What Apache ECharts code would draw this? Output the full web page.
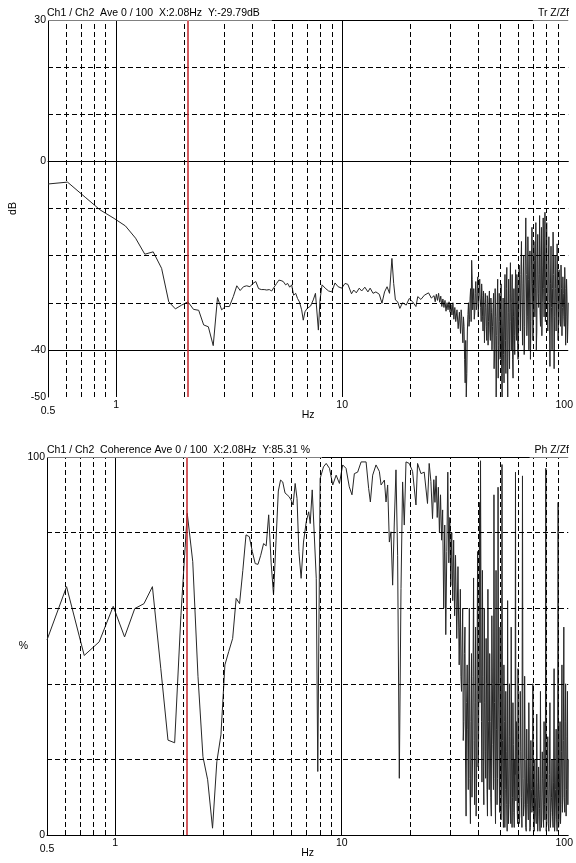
<!DOCTYPE html>
<html>
<head>
<meta charset="utf-8">
<script src="https://cdn.jsdelivr.net/npm/echarts@6/dist/echarts.min.js"></script>
<style>
  html, body { margin: 0; padding: 0; background: #fff; }
  #chart { width: 576px; height: 863px; }
</style>
</head>
<body>
<div id="chart"></div>
<script>
// FFT bins below ~6.5 Hz (about 0.122 Hz apart)
var lowHz = [0.5, 0.61, 0.73, 0.85, 0.98, 1.1, 1.22, 1.34, 1.46, 1.59,
  1.71, 1.83, 1.95, 2.08, 2.2, 2.32, 2.44, 2.56, 2.69, 2.81,
  2.93, 3.05, 3.17, 3.3, 3.42, 3.54, 3.66, 3.78, 3.91, 4.03,
  4.15, 4.27, 4.39, 4.52, 4.64, 4.76, 4.88, 5.0, 5.13, 5.25,
  5.37, 5.49, 5.62, 5.74, 5.86, 5.98, 6.1, 6.23, 6.35, 6.47];
var tfLowDb = [-4.8, -4.4, -7.6, -10.3, -12.1, -13.7, -16.3, -19.7, -19.2, -22.7,
  -29.8, -31.3, -30.5, -29.8, -31.4, -31.6, -34.7, -35.1, -39.1, -28.9,
  -31.5, -30.8, -30.8, -28.7, -26.4, -27.4, -26.6, -26.4, -26.6, -25.9,
  -25.5, -27.0, -27.2, -27.2, -27.3, -27.2, -27.5, -26.7, -25.9, -25.2,
  -25.3, -25.5, -26.2, -25.9, -26.7, -26.2, -28.4, -28.0, -29.1, -29.8];
var cohLowPct = [51.6, 65.7, 47.5, 51.1, 60.5, 52.4, 59.9, 61.2, 65.7, 44,
  25.1, 24.4, 58, 85.1, 72.3, 42, 20.7, 14.6, 1.8, 19.4,
  26.5, 45, 48.5, 52, 62.6, 61.2, 70, 79.4, 78.9, 75,
  71.8, 71.6, 74, 77.1, 76.5, 84.7, 72, 63.5, 78, 91,
  93.9, 93.4, 90.5, 90, 89.5, 88.6, 87.3, 93, 89, 75];

// 6.5 .. 25 Hz, read at the visible vertices
var tfMidHz = [6.62, 6.73, 6.85, 7.0, 7.25, 7.45, 7.62, 7.85, 7.98, 8.15,
  8.41, 8.71, 9.0, 9.3, 9.6, 9.95, 10.3, 10.6, 11.0, 11.25,
  11.55, 11.9, 12.2, 12.6, 13.0, 13.3, 13.7, 14.1, 14.6, 15.0,
  15.4, 15.8, 16.2, 16.6, 16.9, 17.2, 17.6, 18.0, 18.5, 19.2,
  19.8, 20.5, 21.2, 21.6, 22.3, 23.1, 24.1, 24.8];
var tfMidDb = [-31.5, -33.7, -31.9, -31.2, -30.7, -29.4, -28.0, -35.8, -29.4, -26.2,
  -26.9, -27.5, -27.7, -25.8, -26.6, -26.9, -25.9, -26.1, -28.1, -27.3,
  -27.9, -26.9, -27.5, -26.7, -27.7, -26.9, -28.0, -27.7, -28.2, -30.1,
  -27.7, -26.6, -28.0, -20.6, -25.9, -29.4, -29.8, -31.2, -30.0, -30.5,
  -29.1, -29.8, -30.8, -28.7, -29.3, -28.4, -27.9, -29.0];

var cohMidHz = [6.62, 6.78, 6.97, 7.15, 7.26, 7.41, 7.72, 7.84, 8.03, 8.31,
  8.54, 8.83, 9.13, 9.45, 9.77, 10.1, 10.45, 10.8, 11.1, 11.37,
  11.76, 12.18, 12.81, 13.15, 13.38, 13.7, 14.17, 14.66, 14.92, 15.43,
  15.69, 15.95, 16.23, 16.5, 16.78, 17.07, 17.36, 17.65, 17.96, 18.27,
  18.57, 18.89, 19.22, 19.87, 20.55, 21.27, 21.62, 22.38, 23.13, 23.92,
  24.33, 24.76, 25.17];
var cohMidPct = [67.9, 77.5, 82.8, 85.5, 82.4, 91.3, 67.9, 16.8, 94.3, 97.4,
  98.3, 97, 92.6, 95.2, 93, 97.9, 97, 92.1, 90, 95.6,
  96, 98.7, 98.7, 91.7, 88.1, 95.2, 97.9, 96.2, 92.6, 93.9,
  88.1, 92.6, 77.5, 80.2, 66.1, 82.8, 96.6, 74, 15, 65.2,
  93.4, 82, 98.7, 98.3, 96.2, 87.3, 98.3, 95.6, 96, 87.7,
  98.3, 93.5, 83.7];

// 25.5 .. 100 Hz, noisy part, about one reading per pixel
var denseHz = [25.5, 25.8, 26.1, 26.4, 26.7, 27.0, 27.3, 27.6, 27.9, 28.2,
  28.5, 28.8, 29.1, 29.4, 29.7, 30.0, 30.3, 30.6, 30.9, 31.2,
  31.5, 31.8, 32.2, 32.6, 33.0, 33.4, 33.8, 34.2, 34.6, 35.0,
  35.4, 35.8, 36.2, 36.6, 37.0, 37.4, 37.8, 38.2, 38.6, 39.0,
  39.4, 39.8, 40.2, 40.6, 41.0, 41.4, 41.8, 42.2, 42.6, 43.0,
  43.4, 43.8, 44.2, 44.6, 45.0, 45.5, 46.0, 46.5, 47.0, 47.5,
  48.0, 48.5, 49.0, 49.5, 50.0, 50.5, 51.0, 51.5, 52.0, 52.5,
  53.0, 53.5, 54.0, 54.5, 55.0, 55.5, 56.0, 56.5, 57.0, 57.5,
  58.0, 58.5, 59.0, 59.5, 60.0, 60.7, 61.4, 62.1, 62.8, 63.5,
  64.2, 64.9, 65.6, 66.3, 67.0, 67.7, 68.4, 69.1, 69.8, 70.5,
  71.2, 71.9, 72.6, 73.3, 74.0, 74.7, 75.4, 76.1, 76.8, 77.5,
  78.2, 78.9, 79.6, 80.3, 81.2, 82.1, 83.0, 83.9, 84.8, 85.7,
  86.6, 87.5, 88.4, 89.3, 90.2, 91.1, 92.0, 92.9, 93.8, 94.7,
  95.6, 96.5, 97.4, 98.3, 99.2, 100];
var tfDenseDb = [-28.5, -29.8, -28.2, -29.5, -28.0, -29.9, -28.6, -30.8, -29.2, -31.0,
  -29.5, -31.8, -30.0, -31.5, -29.8, -32.0, -30.4, -32.6, -30.0, -33.5,
  -31.0, -34.0, -31.5, -35.5, -32.0, -36.5, -33.0, -38.5, -35.0, -47.0,
  -50.0, -36.0, -30.0, -33.5, -27.0, -21.0, -31.5, -27.0, -32.0, -25.5,
  -30.5, -24.5, -29.5, -25.0, -31.0, -26.0, -33.0, -27.5, -38.5, -28.0,
  -35.0, -28.5, -39.0, -30.0, -36.0, -29.0, -40.0, -31.0, -44.0, -27.0,
  -50.0, -30.0, -46.0, -28.0, -42.0, -26.0, -50.0, -29.0, -47.0, -24.0,
  -45.0, -22.5, -50.0, -25.0, -44.0, -21.5, -40.0, -24.0, -46.0, -27.0,
  -41.0, -23.0, -38.0, -26.0, -42.0, -22.0, -36.0, -17.0, -39.0, -20.0,
  -35.0, -12.0, -37.0, -16.0, -40.0, -19.0, -34.0, -14.0, -38.0, -17.0,
  -33.0, -13.0, -36.0, -15.5, -31.0, -11.5, -35.0, -14.0, -30.0, -12.0,
  -33.0, -10.8, -29.0, -13.0, -36.0, -16.0, -43.5, -18.0, -40.0, -15.0,
  -44.0, -20.0, -36.0, -17.5, -38.0, -23.0, -34.0, -22.0, -37.0, -24.5,
  -33.0, -22.5, -39.0, -25.0, -38.5, -30.0];
var cohDensePct = [94, 88, 95, 84, 92, 80, 90, 78, 86, 60,
  82, 53, 75, 96, 72, 84, 66, 80, 62, 78,
  58, 74, 52, 71, 45, 65, 38, 60, 30, 55,
  5, 45, 12, 60, 3, 48, 20, 68, 8, 55,
  15, 75, 25, 88, 99, 30, 70, 18, 60, 22,
  52, 12, 65, 20, 48, 10, 58, 24, 90, 15,
  70, 8, 92, 20, 55, 4, 98, 10, 45, 2,
  38, 8, 62, 3, 40, 9, 55, 2, 35, 6,
  20, 96, 30, 7, 44, 3, 38, 10, 95, 5,
  42, 2, 28, 8, 35, 1, 25, 6, 40, 2,
  20, 5, 32, 1, 18, 7, 38, 2, 22, 9,
  30, 4, 97, 3, 26, 1, 35, 6, 20, 2,
  44, 5, 28, 1, 88, 4, 30, 8, 45, 10,
  55, 6, 40, 12, 38, 20];

// extra readings between the dense ones, 33 .. 100 Hz
var fillHz = [33.2, 33.6, 34.0, 34.4, 34.8, 35.2, 35.6, 36.0, 36.4, 36.8,
  37.2, 37.6, 38.0, 38.4, 38.8, 39.2, 39.6, 40.0, 40.4, 40.8,
  41.2, 41.6, 42.0, 42.4, 42.8, 43.2, 43.6, 44.0, 44.4, 44.8,
  45.25, 45.75, 46.25, 46.75, 47.25, 47.75, 48.25, 48.75, 49.25, 49.75,
  50.25, 50.75, 51.25, 51.75, 52.25, 52.75, 53.25, 53.75, 54.25, 54.75,
  55.25, 55.75, 56.25, 56.75, 57.25, 57.75, 58.25, 58.75, 59.25, 59.75,
  60.35, 61.05, 61.75, 62.45, 63.15, 63.85, 64.55, 65.25, 65.95, 66.65,
  67.35, 68.05, 68.75, 69.45, 70.15, 70.85, 71.55, 72.25, 72.95, 73.65,
  74.35, 75.05, 75.75, 76.45, 77.15, 77.85, 78.55, 79.25, 79.95,
  80.75, 81.65, 82.55, 83.45, 84.35, 85.25, 86.15, 87.05, 87.95, 88.85,
  89.75, 90.65, 91.55, 92.45, 93.35, 94.25, 95.15, 96.05, 96.95, 97.85,
  98.75, 99.6];
var tfFillDb = [-34.5, -31.5, -36.0, -33.0, -42.0, -38.0, -45.0, -32.5, -35.0, -29.0,
  -34.0, -25.0, -29.5, -33.5, -28.0, -31.5, -27.0, -33.0, -27.5, -29.0,
  -34.0, -28.5, -36.0, -30.0, -33.0, -31.0, -38.0, -29.0, -34.0, -27.5,
  -38.0, -32.0, -35.0, -28.0, -40.0, -33.0, -37.0, -25.0, -39.0, -34.0,
  -31.0, -45.0, -36.0, -41.0, -30.0, -38.0, -27.0, -43.0, -32.0, -36.0,
  -28.0, -34.0, -30.0, -42.0, -33.0, -37.0, -29.0, -35.0, -24.0, -39.0,
  -31.0, -28.0, -24.0, -30.0, -26.0, -41.0, -22.0, -24.0, -33.0, -25.0,
  -29.0, -42.0, -22.0, -26.0, -31.0, -21.0, -27.0, -40.0, -20.0, -28.0,
  -24.0, -32.0, -19.0, -37.0, -22.0, -27.0, -20.0, -34.0, -21.0,
  -28.0, -22.0, -30.0, -26.0, -31.0, -27.0, -24.0, -33.0, -27.0, -30.0,
  -26.0, -32.0, -28.0, -35.0, -27.0, -31.0, -28.0, -35.0, -27.0, -33.0,
  -29.0, -35.0];
var cohFillPct = [55, 42, 50, 25, 48, 20, 35, 28, 40, 15,
  30, 10, 42, 25, 35, 5, 45, 18, 50, 35,
  60, 14, 42, 8, 35, 15, 40, 5, 30, 12,
  30, 5, 40, 12, 35, 3, 28, 15, 40, 6,
  32, 14, 25, 2, 30, 12, 22, 1, 18, 8,
  26, 3, 20, 10, 24, 2, 16, 9, 22, 3,
  18, 5, 22, 2, 15, 8, 20, 1, 14, 4,
  18, 2, 12, 7, 16, 1, 10, 3, 14, 5,
  12, 1, 10, 4, 15, 2, 8, 12, 1,
  12, 3, 16, 2, 10, 5, 14, 1, 12, 4,
  18, 2, 14, 3, 22, 6, 25, 10, 30, 5,
  26, 8];

// grid lines and labels
var hzLabels = [0.5, 1, 10, 100];
var dashHz = [0.6, 0.7, 0.8, 0.9, 2, 3, 4, 5, 6, 7, 8, 9, 20, 30, 40, 50, 60, 70, 80, 90];
var solidHz = [1, 10];
var cursorHz = 2.08;
var tfLabels = [-50, -40, 0, 30];
var tfDash = [20, 10, -10, -20, -30];
var tfSolid = [30, 0, -40];
var cohLabels = [0, 100];
var cohDash = [20, 40, 60, 80];
var cohSolid = [100];

var font = 'Liberation Sans, Arial, sans-serif';

function pairs(xs, ys) {
  var out = [];
  for (var i = 0; i < xs.length; i++) out.push([xs[i], ys[i]]);
  return out;
}

function merged(parts) {
  var all = [];
  parts.forEach(function (p) { all = all.concat(p); });
  all.sort(function (a, b) { return a[0] - b[0]; });
  return all;
}

function gridLines(hDash, hSolid) {
  var dash = { type: [5, 3], color: '#000', width: 1 };
  var solid = { type: 'solid', color: '#000', width: 1 };
  var d = [];
  dashHz.forEach(function (v) { d.push({ xAxis: v, lineStyle: dash }); });
  solidHz.forEach(function (v) { d.push({ xAxis: v, lineStyle: solid }); });
  hDash.forEach(function (v) { d.push({ yAxis: v, lineStyle: dash }); });
  hSolid.forEach(function (v) { d.push({ yAxis: v, lineStyle: solid }); });
  d.push({ xAxis: cursorHz, lineStyle: { type: 'solid', color: '#c4262b', width: 1.5 } });
  return {
    silent: true,
    symbol: ['none', 'none'],
    label: { show: false },
    emphasis: { disabled: true },
    animation: false,
    data: d
  };
}

function xAxisFor(i) {
  return {
    type: 'log',
    logBase: 10,
    gridIndex: i,
    min: 0.5,
    max: 100,
    axisLine: { lineStyle: { color: '#000', width: 1 } },
    axisTick: { show: false },
    splitLine: { show: false },
    axisLabel: {
      customValues: hzLabels,
      margin: 3,
      color: '#000',
      fontSize: 10.5,
      fontFamily: font,
      formatter: function (v) {
        if (v < 0.9) return '{lo|0.5}';
        if (v > 50) return '{end|100}';
        return String(Math.round(v));
      },
      rich: {
        lo: { padding: [6, 0, 0, 0], fontSize: 10.5, fontFamily: font, color: '#000' },
        end: { padding: [0, 8, 0, 0], fontSize: 10.5, fontFamily: font, color: '#000' }
      }
    },
    name: 'Hz',
    nameLocation: 'middle',
    nameGap: 13,
    nameMoveOverlap: false,
    nameTextStyle: { color: '#000', fontSize: 10.5, fontFamily: font }
  };
}

function titleBox(text, pos, top) {
  var t = {
    text: text,
    top: top,
    padding: pos.left !== undefined ? [0, 12, 1.5, 1] : [0, 1, 1.5, 5],
    backgroundColor: '#fff',
    textStyle: { fontSize: 10.5, lineHeight: 12, fontWeight: 'normal', color: '#000', fontFamily: font }
  };
  if (pos.left !== undefined) t.left = pos.left; else t.right = pos.right;
  return t;
}

var chart = echarts.init(document.getElementById('chart'), null, { renderer: 'canvas' });

chart.setOption({
  animation: false,
  backgroundColor: '#fff',
  textStyle: { fontFamily: font },
  title: [
    titleBox('Ch1 / Ch2  Ave 0 / 100  X:2.08Hz  Y:-29.79dB', { left: 46 }, 7),
    titleBox('Tr Z/Zf', { right: 6 }, 7),
    titleBox('Ch1 / Ch2  Coherence Ave 0 / 100  X:2.08Hz  Y:85.31 %', { left: 46 }, 444),
    titleBox('Ph Z/Zf', { right: 6 }, 444)
  ],
  grid: [
    { left: 47, right: 6, top: 20, height: 377 },
    { left: 47, right: 6, top: 457, height: 378 }
  ],
  xAxis: [xAxisFor(0), xAxisFor(1)],
  yAxis: [
    {
      type: 'value', gridIndex: 0, min: -50, max: 30, interval: 10,
      axisLine: { show: true, lineStyle: { color: '#000', width: 1 } },
      axisTick: { show: false },
      splitLine: { show: false },
      axisLabel: { customValues: tfLabels, margin: 2, color: '#000', fontSize: 10.5, fontFamily: font },
      name: 'dB', nameLocation: 'middle', nameGap: 29, nameMoveOverlap: false,
      nameTextStyle: { color: '#000', fontSize: 10.5, fontFamily: font }
    },
    {
      type: 'value', gridIndex: 1, min: 0, max: 100, interval: 20,
      axisLine: { show: true, lineStyle: { color: '#000', width: 1 } },
      axisTick: { show: false },
      splitLine: { show: false },
      axisLabel: { customValues: cohLabels, margin: 2, color: '#000', fontSize: 10.5, fontFamily: font },
      name: '%', nameLocation: 'middle', nameGap: 19, nameRotate: 0, nameMoveOverlap: false,
      nameTextStyle: { color: '#000', fontSize: 10.5, fontFamily: font }
    }
  ],
  series: [
    {
      type: 'line', xAxisIndex: 0, yAxisIndex: 0,
      showSymbol: false, symbol: 'none',
      lineStyle: { color: '#262626', width: 1 },
      data: merged([pairs(lowHz, tfLowDb), pairs(tfMidHz, tfMidDb), pairs(denseHz, tfDenseDb), pairs(fillHz, tfFillDb)]),
      markLine: gridLines(tfDash, tfSolid)
    },
    {
      type: 'line', xAxisIndex: 1, yAxisIndex: 1,
      showSymbol: false, symbol: 'none',
      lineStyle: { color: '#262626', width: 1 },
      data: merged([pairs(lowHz, cohLowPct), pairs(cohMidHz, cohMidPct), pairs(denseHz, cohDensePct), pairs(fillHz, cohFillPct)]),
      markLine: gridLines(cohDash, cohSolid)
    }
  ]
});
</script>
</body>
</html>
